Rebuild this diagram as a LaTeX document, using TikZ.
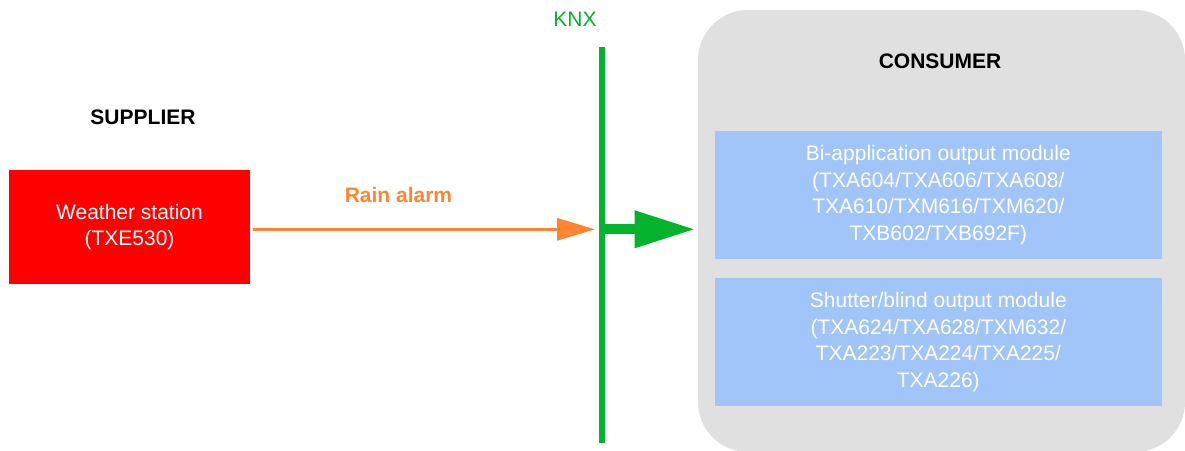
\documentclass[tikz,border=0pt]{standalone}
\usepackage{fontspec}
\setmainfont{Liberation Sans}
\usetikzlibrary{arrows.meta}
\definecolor{redbox}{HTML}{FF0000}
\definecolor{rainorange}{HTML}{FF8533}
\definecolor{knxgreen}{HTML}{03B32B}
\definecolor{grayback}{HTML}{E0E0E0}
\definecolor{bluebox}{HTML}{A1C4F9}
\tikzset{
  txt/.style={font=\fontsize{21}{26.5}\selectfont, align=center, inner sep=0pt},
  boldtxt/.style={txt, font=\fontsize{21}{26.5}\selectfont\bfseries},
  modbox/.style={txt, fill=bluebox, text=white, minimum width=446.7pt, minimum height=128.3pt},
}
\begin{document}
\begin{tikzpicture}[x=1pt,y=-1pt]
\useasboundingbox (0,0) rectangle (1185,450);
% consumer background
\node[fill=grayback, rounded corners=50pt, minimum width=487pt, minimum height=442pt, inner sep=0pt] (consumer) at (941.5,231) {};
\node[boldtxt] (constitle) at (940,61.5) {CONSUMER};
\node[modbox] (mod1) at (938.3,195.2) {Bi-application output module\\(TXA604/TXA606/TXA608/\\TXA610/TXM616/TXM620/\\TXB602/TXB692F)};
\node[modbox] (mod2) at (938.3,342.2) {Shutter/blind output module\\(TXA624/TXA628/TXM632/\\TXA223/TXA224/TXA225/\\TXA226)};
% supplier
\node[boldtxt] (suptitle) at (143,117) {SUPPLIER};
\node[txt, fill=redbox, text=white, minimum width=241pt, minimum height=113.5pt] (weather) at (129.5,227) {Weather station\\(TXE530)};
% KNX bus
\node[txt, text=knxgreen] (knx) at (575,19) {KNX};
\coordinate (busTop) at (601.7,46.7);
\coordinate (busBot) at (601.7,442.7);
\coordinate (busMid) at (601.7,229.3);
\draw[knxgreen, line width=6pt] (busTop) -- (busBot);
% rain alarm
\draw[rainorange, line width=3pt, shorten <=3pt, shorten >=6.7pt, -{Triangle[length=38pt,width=22pt]}] (weather.east |- busMid) -- (busMid);
\node[boldtxt, text=rainorange] (rain) at (398.5,195) {Rain alarm};
% green arrow
\draw[knxgreen, line width=10pt, shorten >=2.3pt, -{Triangle[length=61pt,width=35pt]}] (busMid) -- (consumer.west |- busMid);
\end{tikzpicture}
\end{document}
